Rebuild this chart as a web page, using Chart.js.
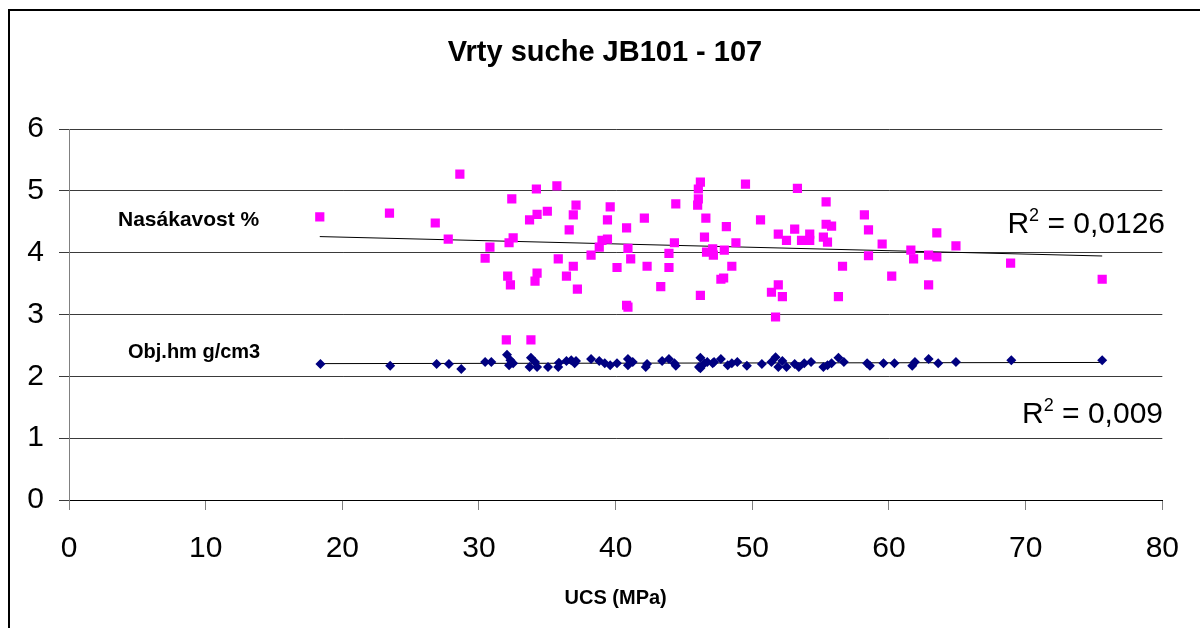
<!DOCTYPE html>
<html>
<head>
<meta charset="utf-8">
<script src="https://cdn.jsdelivr.net/npm/chart.js@4.4.1/dist/chart.umd.min.js"></script>
<style>
  html, body { margin: 0; padding: 0; background: #fff; overflow: hidden; }
  #wrap { position: relative; width: 1200px; height: 628px; }
  #frame { position: absolute; left: 8px; top: 9px; width: 1300px; height: 700px; border: 2px solid #000; box-sizing: border-box; pointer-events: none; }
  canvas { position: absolute; left: 0; top: 0; }
</style>
</head>
<body>
<div id="wrap">
  <canvas id="c" width="1200" height="628"></canvas>
  <div id="frame"></div>
</div>
<script>
// ---- Data ----
const chartTitle = 'Vrty suche JB101 - 107';
const xAxisTitle = 'UCS (MPa)';
const xTicks = [0, 10, 20, 30, 40, 50, 60, 70, 80];
const yTicks = [0, 1, 2, 3, 4, 5, 6];

const seriesNames = ['Nasákavost %', 'Obj.hm g/cm3'];
const r2Labels = ['0,0126', '0,009'];

// Nasákavost % (magenta squares)
const ucsNas = [18.35, 23.45, 26.8, 27.75, 28.6, 30.45, 30.8, 32.0, 33.8, 34.2, 35.7, 32.4, 37.1, 39.6, 44.4, 34.25, 35.0, 33.7, 36.9, 39.4,
  42.1, 36.6, 40.8, 32.5, 32.2, 39.0, 39.4, 44.3, 38.8, 40.9, 43.9, 35.8, 38.2, 41.1, 36.9, 40.1, 42.3, 43.9, 32.1, 34.25,
  34.1, 36.4, 32.3, 37.2, 43.3, 40.8, 40.9, 46.2, 46.05, 49.5, 53.3, 46.05, 46.0, 55.4, 58.2, 46.6, 50.6, 48.1, 53.1, 55.4,
  55.8, 58.5, 51.9, 52.5, 53.6, 54.2, 54.2, 55.2, 55.5, 46.5, 48.8, 47.1, 46.65, 47.15, 47.95, 58.5, 48.5, 56.6, 47.7, 47.9,
  51.9, 51.4, 52.2, 46.2, 56.3, 51.7, 59.5, 61.6, 61.8, 62.9, 63.5, 63.5, 64.9, 60.2, 62.9, 68.9, 75.6];
const nasakavost = [4.58, 4.64, 4.48, 4.22, 5.27, 3.91, 4.09, 2.59, 2.59, 5.03, 5.08, 4.87, 4.77, 4.74, 4.79, 4.62, 4.67, 4.53, 4.61, 4.53,
  4.56, 4.37, 4.40, 4.24, 4.16, 4.20, 4.22, 4.16, 4.09, 4.07, 3.99, 3.90, 3.96, 3.90, 3.78, 3.76, 3.78, 3.76, 3.62, 3.67,
  3.54, 3.62, 3.48, 3.41, 3.45, 3.15, 3.12, 5.14, 5.03, 5.11, 5.04, 4.87, 4.77, 4.82, 4.61, 4.56, 4.53, 4.42, 4.38, 4.46,
  4.43, 4.37, 4.30, 4.20, 4.20, 4.30, 4.20, 4.25, 4.17, 4.25, 4.16, 4.06, 4.01, 3.96, 4.04, 3.95, 3.78, 3.78, 3.57, 3.59,
  3.48, 3.36, 3.29, 3.31, 3.29, 2.96, 4.14, 4.04, 3.90, 3.96, 3.93, 4.32, 4.11, 3.62, 3.48, 3.83, 3.57];

// Obj.hm g/cm3 (navy diamonds)
const ucsObj = [18.4, 23.5, 26.9, 27.8, 28.7, 30.45, 30.9, 32.05, 32.3, 32.5, 32.2, 33.8, 34.1, 33.7, 34.25, 35.05, 35.85, 35.8, 36.4, 36.75,
  37.1, 37.0, 38.2, 38.8, 39.2, 39.6, 40.1, 40.9, 40.9, 41.25, 42.2, 42.3, 43.4, 43.9, 44.3, 44.4, 46.2, 46.1, 46.5, 47.2,
  46.2, 46.7, 47.1, 47.7, 48.2, 48.5, 48.9, 49.6, 50.7, 51.4, 51.7, 51.9, 52.2, 52.5, 53.1, 53.4, 53.8, 54.3, 55.2, 55.5,
  55.8, 56.3, 56.7, 58.4, 58.6, 59.6, 60.4, 61.7, 61.9, 62.9, 63.6, 64.9, 68.95, 75.6];
const objHm = [2.20, 2.17, 2.20, 2.20, 2.12, 2.23, 2.23, 2.35, 2.26, 2.21, 2.18, 2.30, 2.23, 2.15, 2.15, 2.15, 2.22, 2.15, 2.25, 2.26,
  2.25, 2.21, 2.28, 2.25, 2.21, 2.18, 2.21, 2.28, 2.18, 2.23, 2.15, 2.20, 2.25, 2.28, 2.21, 2.17, 2.30, 2.15, 2.21, 2.23,
  2.13, 2.23, 2.21, 2.28, 2.18, 2.21, 2.23, 2.17, 2.20, 2.23, 2.31, 2.15, 2.25, 2.15, 2.20, 2.15, 2.21, 2.23, 2.15, 2.18,
  2.21, 2.30, 2.23, 2.21, 2.17, 2.21, 2.21, 2.17, 2.23, 2.28, 2.21, 2.23, 2.26, 2.26];

// ---- helpers ----
function toPoints(xs, ys) { return xs.map((x, i) => ({ x: x, y: ys[i] })); }
function trend(xs, ys) {
  const n = xs.length;
  let sx = 0, sy = 0, sxx = 0, sxy = 0;
  for (let i = 0; i < n; i++) { sx += xs[i]; sy += ys[i]; sxx += xs[i] * xs[i]; sxy += xs[i] * ys[i]; }
  const b = (n * sxy - sx * sy) / (n * sxx - sx * sx);
  const a = (sy - b * sx) / n;
  const x0 = Math.min(...xs), x1 = Math.max(...xs);
  return [{ x: x0, y: a + b * x0 }, { x: x1, y: a + b * x1 }];
}

const FONT = '"Liberation Sans", Arial, sans-serif';

const textPlugin = {
  id: 'texts',
  afterLayout(chart) {
    // centre the title over the whole framed chart, as in the reference
    if (chart.titleBlock) { chart.titleBlock.left = 43; chart.titleBlock.right = 1167; }
  },
  afterDatasetsDraw(chart) {
    const ctx = chart.ctx;
    ctx.save();
    ctx.fillStyle = '#000';
    ctx.textBaseline = 'middle';
    ctx.textAlign = 'left';
    ctx.font = 'bold 21px ' + FONT;
    ctx.fillText(seriesNames[0], 118, 220);
    ctx.font = 'bold 20px ' + FONT;
    ctx.fillText(seriesNames[1], 128, 352);

    function drawR2(val, right, baseline) {
      ctx.textBaseline = 'alphabetic';
      ctx.textAlign = 'left';
      const big = '30px ' + FONT, small = '18px ' + FONT;
      ctx.font = big;
      const rest = ' = ' + val;
      const wRest = ctx.measureText(rest).width;
      const wR = ctx.measureText('R').width;
      ctx.font = small;
      const w2 = ctx.measureText('2').width;
      let x = right - wRest - w2 - wR;
      ctx.font = big;
      ctx.fillText('R', x, baseline);
      x += wR;
      ctx.font = small;
      ctx.fillText('2', x, baseline - 12);
      x += w2;
      ctx.font = big;
      ctx.fillText(rest, x, baseline);
    }
    drawR2(r2Labels[0], 1165, 233);
    drawR2(r2Labels[1], 1163, 423);
    ctx.restore();
  }
};

new Chart(document.getElementById('c'), {
  type: 'scatter',
  data: {
    datasets: [
      { label: seriesNames[0], data: toPoints(ucsNas, nasakavost), pointStyle: 'rect', pointRadius: 6.5,
        backgroundColor: '#FF00FF', borderColor: '#FF00FF', borderWidth: 0, order: 1 },
      { label: seriesNames[1], data: toPoints(ucsObj, objHm), pointStyle: 'rectRot', pointRadius: 5,
        backgroundColor: '#000080', borderColor: '#000080', borderWidth: 0, order: 1 },
      { type: 'line', label: 'trend1', data: trend(ucsNas, nasakavost), borderColor: '#000', borderWidth: 1,
        pointRadius: 0, fill: false, order: 2 },
      { type: 'line', label: 'trend2', data: trend(ucsObj, objHm), borderColor: '#000', borderWidth: 1,
        pointRadius: 0, fill: false, order: 2 }
    ]
  },
  options: {
    responsive: false,
    animation: false,
    layout: { padding: { left: 0, right: 33, top: 0, bottom: 0 } },
    plugins: {
      legend: { display: false },
      tooltip: { enabled: false },
      title: { display: true, text: chartTitle, color: '#000',
        font: { family: FONT, size: 29, weight: 'bold' }, padding: { top: 36, bottom: 58.2 } }
    },
    scales: {
      x: {
        type: 'linear', min: xTicks[0], max: xTicks[xTicks.length - 1],
        afterBuildTicks: s => { s.ticks = xTicks.map(v => ({ value: v })); },
        afterFit: s => { s.height = 128; },
        ticks: { color: '#000', font: { family: FONT, size: 30 }, padding: 21, maxRotation: 0 },
        grid: { drawOnChartArea: false, drawTicks: true, tickLength: 10, color: '#808080' },
        border: { color: '#000', width: 1 },
        title: { display: true, text: xAxisTitle, color: '#000', font: { family: FONT, size: 20, weight: 'bold' },
          padding: { top: 0, bottom: 18 } }
      },
      y: {
        type: 'linear', min: yTicks[0], max: yTicks[yTicks.length - 1],
        afterBuildTicks: s => { s.ticks = yTicks.map(v => ({ value: v })); },
        afterFit: s => { s.width = 69; },
        ticks: { color: '#000', font: { family: FONT, size: 30 }, padding: 15 },
        grid: { drawOnChartArea: true, drawTicks: true, tickLength: 10, color: '#3a3a3a', lineWidth: 1 },
        border: { color: '#808080', width: 1 }
      }
    }
  },
  plugins: [textPlugin]
});
</script>
</body>
</html>
